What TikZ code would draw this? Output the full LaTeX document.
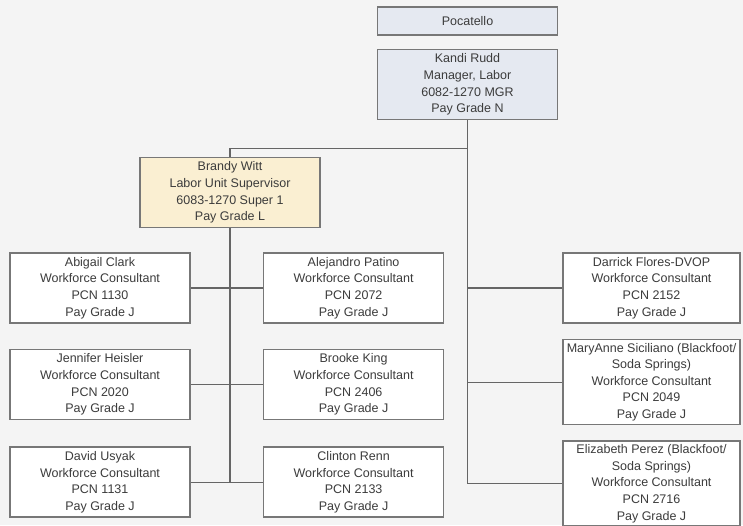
\documentclass[tikz,border=0pt]{standalone}
\usepackage{fontspec}
\setmainfont{Liberation Sans}
\usetikzlibrary{positioning,backgrounds}

\definecolor{bgpaper}{HTML}{F4F4F4}
\definecolor{inkgray}{HTML}{3C3C3C}
\definecolor{rimgray}{HTML}{777777}
\definecolor{headfill}{HTML}{E5E9F1}
\definecolor{superfill}{HTML}{FAEFD2}

\begin{document}
\begin{tikzpicture}[x=1pt,y=-1pt,
    every node/.style={font=\fontsize{12.5}{16.6}\selectfont,text=inkgray},
    staffbox/.style={draw=rimgray,line width=1.6pt,fill=white,align=center,
      minimum width=180pt,minimum height=70pt,inner sep=1pt},
    headbox/.style={staffbox,fill=headfill},
    superbox/.style={staffbox,fill=superfill},
    link/.style={draw=rimgray!85!black,line width=1.1pt}]
    \useasboundingbox (0,0) rectangle (743,525);

    \node[headbox,minimum height=28pt] (poc) at (467.5,21) {Pocatello};
    \node[headbox,below=13pt of poc] (kandi) {Kandi Rudd\\Manager, Labor\\6082-1270 MGR\\Pay Grade N};
    \node[superbox] (brandy) at (230,192.5) {Brandy Witt\\Labor Unit Supervisor\\6083-1270 Super 1\\Pay Grade L};

    \node[staffbox] (abigail) at (100,288) {Abigail Clark\\Workforce Consultant\\PCN 1130\\Pay Grade J};
    \node[staffbox,right=72pt of abigail] (alejandro) {Alejandro Patino\\Workforce Consultant\\PCN 2072\\Pay Grade J};
    \node[staffbox,below=25pt of abigail] (jennifer) {Jennifer Heisler\\Workforce Consultant\\PCN 2020\\Pay Grade J};
    \node[staffbox,right=72pt of jennifer] (brooke) {Brooke King\\Workforce Consultant\\PCN 2406\\Pay Grade J};
    \node[staffbox,below=26pt of jennifer] (david) {David Usyak\\Workforce Consultant\\PCN 1131\\Pay Grade J};
    \node[staffbox,right=72pt of david] (clinton) {Clinton Renn\\Workforce Consultant\\PCN 2133\\Pay Grade J};

    \node[staffbox,minimum width=177pt] (darrick) at (651.5,288) {Darrick Flores-DVOP\\Workforce Consultant\\PCN 2152\\Pay Grade J};
    \node[staffbox,minimum width=177pt,minimum height=85pt,below=15pt of darrick] (maryanne) {MaryAnne Siciliano (Blackfoot/\\Soda Springs)\\Workforce Consultant\\PCN 2049\\Pay Grade J};
    \node[staffbox,minimum width=177pt,minimum height=85pt,below=15pt of maryanne] (elizabeth) {Elizabeth Perez (Blackfoot/\\Soda Springs)\\Workforce Consultant\\PCN 2716\\Pay Grade J};

    \coordinate (trunk) at ([yshift=-28pt]kandi.south);

    \begin{scope}[on background layer]
    \fill[bgpaper] (0,0) rectangle (743,525);
    \path[link] (kandi.south) |- (elizabeth.west)
          (kandi.south) |- (maryanne.west)
          (kandi.south) |- (darrick.west)
          (trunk) -| (brandy.north)
          (brandy.south) |- (david.east)
          (abigail.east) -- (alejandro.west)
          (jennifer.east) -- (brooke.west)
          (david.east) -- (clinton.west);
    \end{scope}
\end{tikzpicture}
\end{document}
